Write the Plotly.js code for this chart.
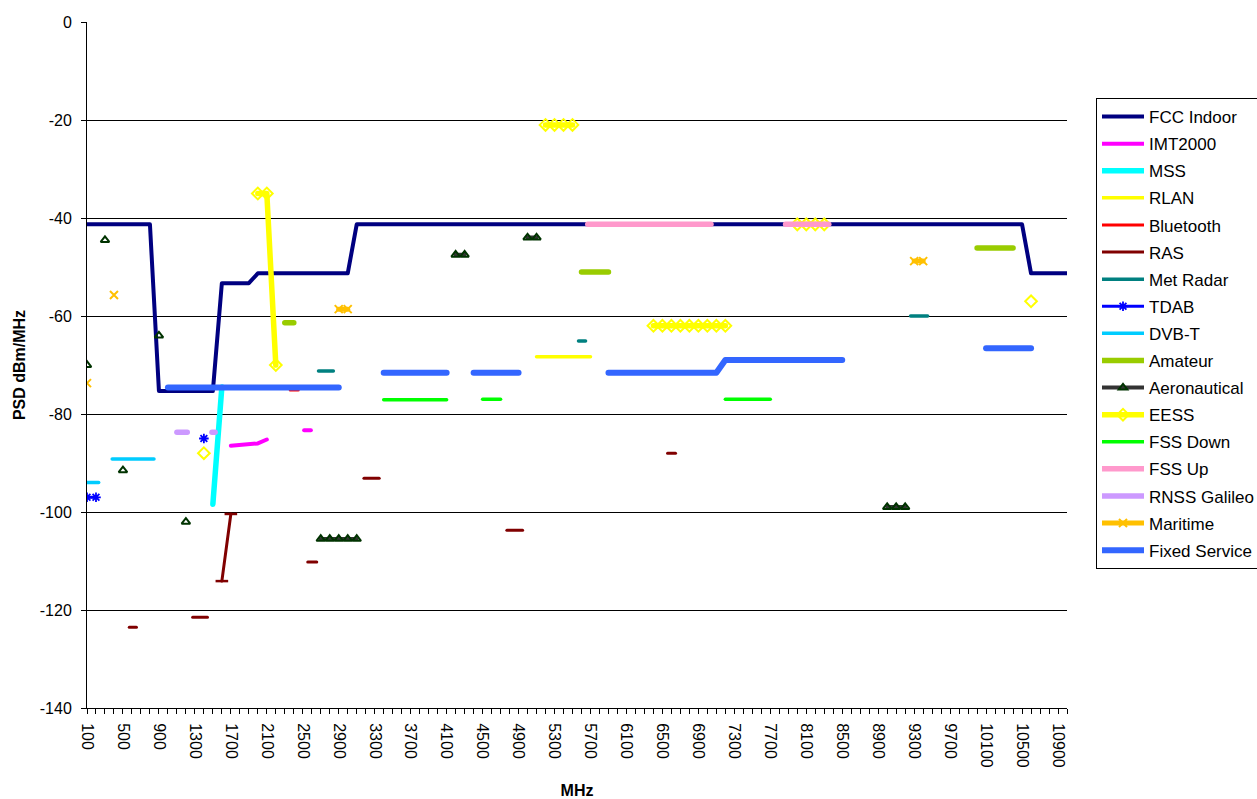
<!DOCTYPE html>
<html><head><meta charset="utf-8">
<script src="https://cdn.plot.ly/plotly-3.0.1.min.js"></script>
<style>
html,body{margin:0;padding:0;background:#fff;}
#chart{width:1257px;height:799px;}
.scatterlayer .js-line{stroke-linecap:round;stroke-linejoin:round;}
</style></head><body><div id="chart"></div>
<script>
const N = null;
// frequencies in MHz, values in dBm/MHz
const fccX = [100,800,900,1500,1600,1900,2000,3000,3100,10500,10600,11000];
const fccY = [-41.3,-41.3,-75.3,-75.3,-53.3,-53.3,-51.3,-51.3,-41.3,-41.3,-51.3,-51.3];
const imtX = [1700,1800,1900,2000,2100,N,2515,2590];
const imtY = [-86.5,-86.3,-86,-86,-85.2,N,-83.3,-83.3];
const mssX = [1500,1600];
const mssY = [-98.4,-74.5];
const rlanX = [5100,5700];
const rlanY = [-68.3,-68.3];
const btX = [2360,2450];
const btY = [-75.1,-75.1];
const rasX = [570,650,N,1275,1440,N,1600,1700,N,2555,2655,N,3180,3350,N,4770,4945,N,6557,6646];
const rasY = [-123.5,-123.5,N,-121.5,-121.5,N,-114.1,-100.4,N,-110.2,-110.2,N,-93.1,-93.1,N,-103.7,-103.7,N,-88,-88];
const rasCapX = [1600,1700];
const rasCapY = [-114.1,-100.4];
const metX = [2675,2840,N,5567,5645,N,9260,9450];
const metY = [-71.2,-71.2,N,-65.1,-65.1,N,-60,-60];
const tdabX = [100,200,N,1400];
const tdabY = [-97,-97,N,-85];
const dvbX = [100,230,N,380,845];
const dvbY = [-94,-94,N,-89.2,-89.2];
const amX = [2300,2400,N,5600,5900,N,10000,10400];
const amY = [-61.4,-61.4,N,-51,-51,N,-46.1,-46.1];
const aeroX = [100,N,300,N,500,N,900,N,1200,N,2700,2800,2900,3000,3100,N,4200,4300,N,5000,5100,N,9000,9100,9200];
const aeroY = [-70,N,-44.5,N,-91.5,N,-64,N,-102,N,-105.5,-105.5,-105.5,-105.5,-105.5,N,-47.5,-47.5,N,-44,-44,N,-99,-99,-99];
const eessX = [1400,N,2000,2100,2200,N,5200,5300,5400,5500,N,6400,6500,6600,6700,6800,6900,7000,7100,7200,N,8000,8100,8200,8300,N,10600];
const eessY = [-88,N,-35,-35,-70,N,-21,-21,-21,-21,N,-62,-62,-62,-62,-62,-62,-62,-62,-62,N,-41.3,-41.3,-41.3,-41.3,N,-57];
const fssDX = [3400,4100,N,4500,4700,N,7200,7700];
const fssDY = [-77.1,-77.1,N,-77,-77,N,-77,-77];
const fssUX = [5670,7040,N,7870,8350];
const fssUY = [-41.3,-41.3,N,-41.3,-41.3];
const rnssX = [1100,1215,N,1490,1525];
const rnssY = [-83.7,-83.7,N,-83.7,-83.7];
const marX = [100,N,400,N,2900,3000,N,9300,9400];
const marY = [-73.7,N,-55.7,N,-58.6,-58.6,N,-48.8,-48.8];
const fixX = [1000,2900,N,3400,4100,N,4400,4900,N,5900,7100,7200,8500,N,10100,10600];
const fixY = [-74.6,-74.6,N,-71.6,-71.6,N,-71.6,-71.6,N,-71.6,-71.6,-69,-69,N,-66.6,-66.6];

const xTickVals = [100,500,900,1300,1700,2100,2500,2900,3300,3700,4100,4500,4900,5300,5700,6100,6500,6900,7300,7700,8100,8500,8900,9300,9700,10100,10500,10900];
const xTickText = xTickVals.map(String);
const yTickVals = [0,-20,-40,-60,-80,-100,-120,-140];
const yTickText = ['0','-20','-40','-60','-80','-100','-120','-140'];

function ln(name, x, y, color, width, extra) {
  return Object.assign({
    type: 'scatter', mode: 'lines', name: name, legendgroup: name,
    x: x, y: y, connectgaps: false,
    line: {color: color, width: width}
  }, extra || {});
}

const traces = [
  ln('FCC Indoor', fccX, fccY, '#000080', 4),
  ln('IMT2000', imtX, imtY, '#FF00FF', 4),
  ln('MSS', mssX, mssY, '#00FFFF', 5.5),
  ln('RLAN', rlanX, rlanY, '#FFFF00', 3.5),
  ln('Bluetooth', btX, btY, '#FF0000', 3),
  ln('RAS', rasX, rasY, '#800000', 3),
  {type:'scatter', mode:'markers', x: rasCapX, y: rasCapY, legendgroup:'RAS', showlegend:false,
   marker:{symbol:'line-ew', size:9, line:{color:'#800000', width:2.5}}},
  ln('Met Radar', metX, metY, '#008080', 3.5),
  ln('TDAB', tdabX, tdabY, '#0000FF', 3, {mode:'lines+markers',
     marker:{symbol:'asterisk-open', size:8, color:'#0000FF', line:{color:'#0000FF', width:1.8}}}),
  ln('DVB-T', dvbX, dvbY, '#00CCFF', 3.5),
  ln('Amateur', amX, amY, '#99CC00', 5.5),
  ln('Aeronautical', aeroX, aeroY, '#333333', 4, {mode:'lines+markers',
     marker:{symbol:'triangle-up-open', size:7.5, color:'#003300', line:{color:'#003300', width:2}}}),
  ln('EESS', eessX, eessY, '#FFFF00', 5.5, {mode:'lines+markers',
     marker:{symbol:'diamond-open', size:9, color:'#FFFF00', line:{color:'#FFFF00', width:2}}}),
  ln('FSS Down', fssDX, fssDY, '#00FF00', 3.5),
  ln('FSS Up', fssUX, fssUY, '#FF99CC', 5.5),
  ln('RNSS Galileo', rnssX, rnssY, '#CC99FF', 5.5),
  ln('Maritime', marX, marY, '#FFC000', 5, {mode:'lines+markers',
     marker:{symbol:'x-thin-open', size:8, color:'#FFC000', line:{color:'#FFC000', width:2}}}),
  ln('Fixed Service', fixX, fixY, '#3366FF', 6)
];

const FONT = 'Liberation Sans, Arial, Helvetica, sans-serif';
const layout = {
  width: 1257, height: 799,
  margin: {l: 87, r: 190, t: 22, b: 91},
  paper_bgcolor: '#fff', plot_bgcolor: '#fff',
  font: {family: FONT, size: 16, color: '#000'},
  showlegend: true,
  legend: {
    xref: 'container', yref: 'paper',
    x: 1096/1257, y: (708-98)/686, xanchor: 'left', yanchor: 'top',
    bordercolor: '#000', borderwidth: 1, bgcolor: '#fff',
    font: {family: FONT, size: 17, color: '#000'},
    traceorder: 'grouped', tracegroupgap: 2, itemwidth: 42
  },
  xaxis: {
    type: 'linear', range: [100, 11000], fixedrange: true,
    showline: true, linecolor: '#000', linewidth: 1,
    showgrid: false, zeroline: false,
    tickmode: 'array', tickvals: xTickVals, ticktext: xTickText,
    tickangle: 90, ticks: 'outside', ticklen: 5, tickcolor: '#000',
    ticklabelstandoff: 6,
    tickfont: {family: FONT, size: 16},
    minor: {tickmode: 'linear', tick0: 100, dtick: 100, ticks: 'outside', ticklen: 5, tickcolor: '#000', showgrid: false},
    title: {text: '<b>MHz</b>', font: {family: FONT, size: 16}, standoff: 18}
  },
  yaxis: {
    range: [-140, 0], fixedrange: true,
    showline: true, linecolor: '#000', linewidth: 1,
    showgrid: true, gridcolor: '#000', gridwidth: 1,
    zeroline: true, zerolinecolor: '#fff', zerolinewidth: 2,
    tickmode: 'array', tickvals: yTickVals, ticktext: yTickText,
    ticks: 'outside', ticklen: 5, tickcolor: '#000',
    ticklabelstandoff: 6,
    tickfont: {family: FONT, size: 16},
    title: {text: '<b>PSD dBm/MHz</b>', font: {family: FONT, size: 16}, standoff: 10}
  }
};

Plotly.newPlot('chart', traces, layout, {displayModeBar: false, staticPlot: true});
</script></body></html>
